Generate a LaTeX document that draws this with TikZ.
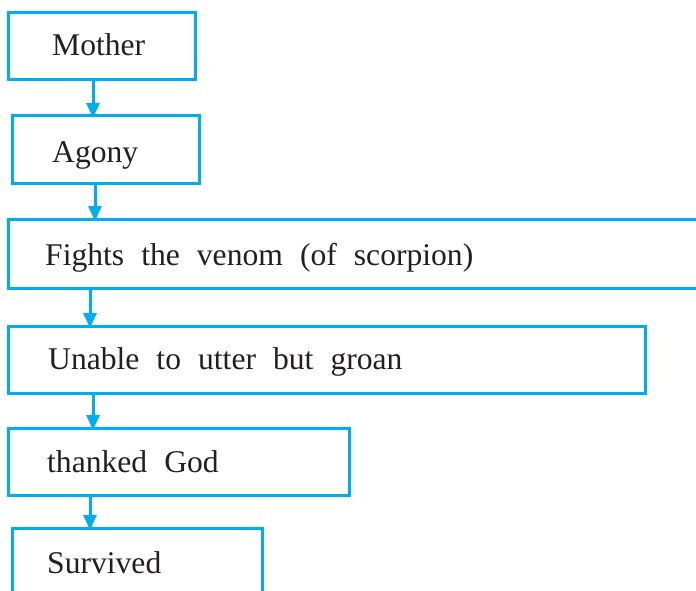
\documentclass[tikz,border=0pt]{standalone}
\usepackage{fontspec}
\setmainfont{Liberation Serif}
\usetikzlibrary{arrows.meta}
\definecolor{boxblue}{HTML}{00AEEF}
\definecolor{txt}{HTML}{231F20}
\newcommand\myboxfont{\fontsize{31.6}{38}\selectfont\spaceskip 0.54em\relax}
\begin{document}
\begin{tikzpicture}[x=1pt,y=-1pt,
  fbox/.style={draw=boxblue,line width=3pt,rectangle,inner sep=0pt,outer sep=0pt,anchor=north west},
  lbl/.style={anchor=base west,inner sep=0pt,text=txt,font=\myboxfont},
  arr/.style={draw=boxblue,line width=3pt,-{Triangle[length=15pt,width=13pt]},shorten >=-2pt}]
\useasboundingbox (0,0) rectangle (696,591);
\clip (0,0) rectangle (696,591);
\node[fbox,minimum width=187pt,minimum height=67pt] (mother) at (8,13) {};
\node[fbox,minimum width=187pt,minimum height=67pt] (agony) at (12,116) {};
\node[fbox,minimum width=702pt,minimum height=69pt] (fights) at (8,219) {};
\node[fbox,minimum width=637pt,minimum height=67pt] (unable) at (8,326) {};
\node[fbox,minimum width=341pt,minimum height=67pt] (thanked) at (8,428) {};
\node[fbox,minimum width=250pt,minimum height=82pt] (survived) at (12,528) {};
\node[lbl] (tmother) at (52,56) {Mother};
\node[lbl] (tagony) at (52,163) {Agony};
\node[lbl] (tfights) at (45,265) {Fights the venom (of scorpion)};
\node[lbl] (tunable) at (48,369) {Unable to utter but groan};
\node[lbl] (tthanked) at (47,472) {thanked God};
\node[lbl] (tsurvived) at (47,573) {Survived};
\draw[arr] ([xshift=85pt]mother.south west) -- ([xshift=81pt]agony.north west);
\draw[arr] ([xshift=83pt]agony.south west) -- ([xshift=87pt]fights.north west);
\draw[arr] ([xshift=82pt]fights.south west) -- ([xshift=82pt]unable.north west);
\draw[arr] ([xshift=85pt]unable.south west) -- ([xshift=85pt]thanked.north west);
\draw[arr] ([xshift=82pt]thanked.south west) -- ([xshift=78pt]survived.north west);
\end{tikzpicture}
\end{document}
